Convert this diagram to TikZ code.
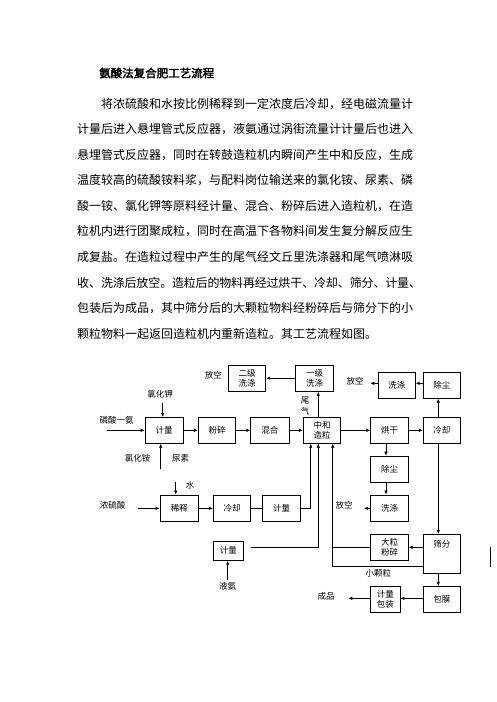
\documentclass[tikz,border=0pt]{standalone}
\usepackage{fontspec}
\usetikzlibrary{arrows.meta}
\newfontfamily\cjk{Noto Sans CJK SC}
\newfontfamily\cjkb[FakeBold=2.5]{Noto Sans CJK SC}
\XeTeXlinebreaklocale "zh"
\XeTeXlinebreakskip=0pt plus 1pt minus 0.5pt
\tikzset{
  txtline/.style={anchor=west, inner sep=0pt, text width=344pt,
    font=\cjk\fontsize{12}{14}\selectfont},
  lastline/.style={anchor=west, inner sep=0pt,
    font=\cjk\fontsize{12}{14}\selectfont},
  pbox/.style={draw, line width=0.7pt, inner sep=0pt, align=center,
    font=\cjk\fontsize{8.5}{10}\selectfont},
  lbl/.style={inner sep=0pt, align=center, font=\cjk\fontsize{8.5}{10}\selectfont},
  arr/.style={line width=0.7pt, -{Latex[length=4pt,width=3.5pt]}},
  ln/.style={line width=0.7pt}
}
\begin{document}
\begin{tikzpicture}[x=1pt,y=-1pt]
\useasboundingbox (0,0) rectangle (496,702);
% ---- text ----
\node[anchor=west, inner sep=0pt, font=\cjkb\fontsize{11.5}{13}\selectfont] (title) at (99,73) {氨酸法复合肥工艺流程};
\node[txtline] (l1) at (77,104) {\noindent\parfillskip=0pt\hspace*{24pt}将浓硫酸和水按比例稀释到一定浓度后冷却，经电磁流量计};
\node[txtline] (l2) at (77,129.5) {\noindent\parfillskip=0pt 计量后进入悬埋管式反应器，液氨通过涡街流量计计量后也进入};
\node[txtline] (l3) at (77,155) {\noindent\parfillskip=0pt 悬埋管式反应器，同时在转鼓造粒机内瞬间产生中和反应，生成};
\node[txtline] (l4) at (77,180.5) {\noindent\parfillskip=0pt 温度较高的硫酸铵料浆，与配料岗位输送来的氯化铵、尿素、磷};
\node[txtline] (l5) at (77,206) {\noindent\parfillskip=0pt 酸一铵、氯化钾等原料经计量、混合、粉碎后进入造粒机，在造};
\node[txtline] (l6) at (77,231.5) {\noindent\parfillskip=0pt 粒机内进行团聚成粒，同时在高温下各物料间发生复分解反应生};
\node[txtline] (l7) at (77,257) {\noindent\parfillskip=0pt 成复盐。在造粒过程中产生的尾气经文丘里洗涤器和尾气喷淋吸};
\node[txtline] (l8) at (77,282.5) {\noindent\parfillskip=0pt 收、洗涤后放空。造粒后的物料再经过烘干、冷却、筛分、计量、};
\node[txtline] (l9) at (77,308) {\noindent\parfillskip=0pt 包装后为成品，其中筛分后的大颗粒物料经粉碎后与筛分下的小};
\node[lastline] (l10) at (77,333.5) {颗粒物料一起返回造粒机内重新造粒。其工艺流程如图。};
% ---- boxes ----
\node[pbox, minimum width=38.3pt, minimum height=26pt] (jl1) at (164.2,430.3) {计量};
\node[pbox, minimum width=37.4pt, minimum height=26pt] (fs) at (217,430.3) {粉碎};
\node[pbox, minimum width=38.3pt, minimum height=26pt] (hh) at (269.9,430.3) {混合};
\node[pbox, minimum width=37.4pt, minimum height=26pt] (zh) at (322,430.3) {中和\\造粒};
\node[pbox, minimum width=37.6pt, minimum height=26pt] (hg) at (389.5,430.3) {烘干};
\node[pbox, minimum width=37pt, minimum height=26pt] (lq) at (441.8,430.3) {冷却};
\node[pbox, minimum width=37.4pt, minimum height=26.3pt] (ejxd) at (247,378.2) {二级\\洗涤};
\node[pbox, minimum width=37.6pt, minimum height=26.3pt] (yjxd) at (314.5,378.2) {一级\\洗涤};
\node[pbox, minimum width=37pt, minimum height=25.6pt] (xd1) at (396.8,385.5) {洗涤};
\node[pbox, minimum width=37pt, minimum height=25.6pt] (cc1) at (441.8,385.5) {除尘};
\node[pbox, minimum width=37.6pt, minimum height=26.3pt] (cc2) at (389.5,469.2) {除尘};
\node[pbox, minimum width=37.6pt, minimum height=26.7pt] (xd2) at (389.5,508.3) {洗涤};
\node[pbox, minimum width=38.7pt, minimum height=26.7pt] (xs) at (179.3,508.3) {稀释};
\node[pbox, minimum width=37.4pt, minimum height=26.7pt] (lq2) at (232,508.3) {冷却};
\node[pbox, minimum width=38.4pt, minimum height=26.7pt] (jl3) at (281.5,508.3) {计量};
\node[pbox, minimum width=30pt, minimum height=19.3pt] (jl4) at (228.3,550.7) {计量};
\node[pbox, minimum width=37.6pt, minimum height=26pt] (dl) at (389.5,547.3) {大粒\\粉碎};
\node[pbox, minimum width=37pt, minimum height=39pt, text depth=19pt] (sf) at (441.8,553.8) {筛分};
\node[pbox, minimum width=37pt, minimum height=26pt] (bm) at (441.8,599.3) {包膜};
\node[pbox, minimum width=29.3pt, minimum height=26pt] (jlbz) at (385.3,599.3) {计量\\包装};
% ---- labels ----
\node[lbl] (fk0) at (213.3,375) {放空};
\node[lbl] (fk1) at (355,381.7) {放空};
\node[lbl] (fk2) at (344,505) {放空};
\node[lbl] (lhj) at (160,394) {氯化钾};
\node[lbl] (lsya) at (116.7,420) {磷酸一氨};
\node[lbl] (lha) at (137.7,458.3) {氯化铵};
\node[lbl] (ns) at (180.7,458) {尿素};
\node[lbl] (wei) at (305,400.7) {尾};
\node[lbl] (qi) at (305,411) {气};
\node[lbl] (shui) at (190,485) {水};
\node[lbl] (nls) at (112.7,505) {浓硫酸};
\node[lbl] (ya) at (227.7,586) {液氨};
\node[lbl] (xkl) at (378.3,573) {小颗粒};
\node[lbl] (cp) at (326,596) {成品};
% ---- free ends ----
\coordinate (s1) at (107,430.3);
\coordinate (s2) at (162.7,403);
\coordinate (s3) at (160.7,469.3);
\coordinate (t1) at (370.3,383.3);
\coordinate (t2) at (364,508.3);
\coordinate (s4) at (175.7,481.7);
\coordinate (s5) at (138.3,508.3);
\coordinate (s6) at (227.7,580);
\coordinate (t3) at (348.3,598.3);
% ---- connectors ----
\draw[arr] (s1) -- (jl1.west);
\draw[arr] (s2) -- (s2 |- jl1.north);
\draw[arr] (s3) -- (s3 |- jl1.south);
\draw[arr] (jl1) -- (fs);
\draw[arr] (fs) -- (hh);
\draw[arr] (hh) -- (zh);
\draw[arr] (zh) -- (hg);
\draw[arr] (hg) -- (lq);
\draw[arr] ([xshift=-3.5pt]lq.north) -- ([xshift=-3.5pt]cc1.south);
\draw[arr] ([yshift=2.2pt]cc1.west) -- ([yshift=2.2pt]xd1.east);
\draw[arr] ([yshift=2.2pt]xd1.west) -- (t1);
\draw[arr] ([xshift=-3.7pt]zh.north) -- ([xshift=-3.7pt]zh.north |- yjxd.south);
\draw[arr] (yjxd) -- (ejxd);
\draw[arr] ([xshift=-3.5pt]hg.south) -- ([xshift=-3.5pt]cc2.north);
\draw[arr] ([xshift=-3.5pt]cc2.south) -- ([xshift=-3.5pt]xd2.north);
\draw[arr] (xd2.west) -- (t2);
\draw[arr] (s4) -- (s4 |- xs.north);
\draw[arr] (s5) -- (xs.west);
\draw[arr] (xs) -- (lq2);
\draw[ln] (lq2) -- (jl3);
\draw[arr] (jl3.east) -| ([xshift=-11.3pt]zh.south);
\draw[arr] ([shift={(7.4pt,3.4pt)}]jl4.east) -| ([xshift=-3.7pt]zh.south);
\draw[arr] (s6) -- (s6 |- jl4.south);
\draw[arr] ([xshift=-3.5pt]lq.south) -- ([xshift=-3.5pt]sf.north);
\draw[arr] ([yshift=6.5pt]sf.west) -- (dl.east);
\draw[ln] (dl.west) -- ([xshift=10.7pt]zh.south |- dl.west);
\draw[arr] ([yshift=-12.9pt]sf.west) -| ([xshift=10.7pt]zh.south);
\draw[arr] ([xshift=-3.5pt]sf.south) -- ([xshift=-3.5pt]bm.north);
\draw[arr] ([yshift=1pt]bm.west) -- ([yshift=1pt]jlbz.east);
\draw[arr] ([yshift=1pt]jlbz.west) -- (t3);
% margin bar
\coordinate (b1) at (490.5,546.5);
\coordinate (b2) at (490.5,567);
\draw[line width=0.8pt] (b1) -- (b2);
\end{tikzpicture}
\end{document}
